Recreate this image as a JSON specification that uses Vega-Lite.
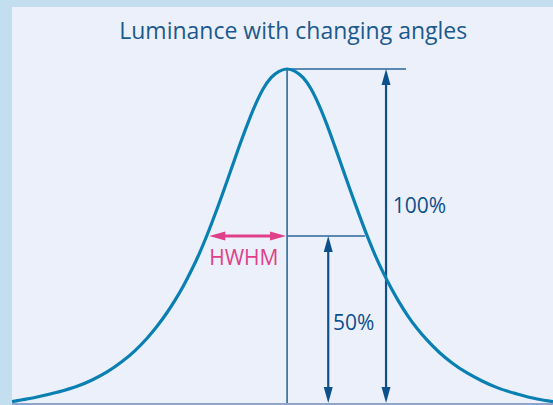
{
  "$schema": "https://vega.github.io/schema/vega-lite/v6.json",
  "autosize": "none",
  "width": 541,
  "height": 398,
  "padding": {"left": 12, "top": 7, "right": 0, "bottom": 0},
  "background": "#c3deee",
  "view": {"fill": "#ecf0fb", "stroke": null},
  "datasets": {
    "curve": [
      {"angle": -80.88, "lum": 0.4},
      {"angle": -78.24, "lum": 0.9},
      {"angle": -73.53, "lum": 1.8},
      {"angle": -67.65, "lum": 3.2},
      {"angle": -61.76, "lum": 5.0},
      {"angle": -57.35, "lum": 6.9},
      {"angle": -52.94, "lum": 9.3},
      {"angle": -48.53, "lum": 12.4},
      {"angle": -44.71, "lum": 15.7},
      {"angle": -41.18, "lum": 19.4},
      {"angle": -38.24, "lum": 23.0},
      {"angle": -35.29, "lum": 27.1},
      {"angle": -32.94, "lum": 30.8},
      {"angle": -30.59, "lum": 34.9},
      {"angle": -28.24, "lum": 39.5},
      {"angle": -25.88, "lum": 44.6},
      {"angle": -23.53, "lum": 50.3},
      {"angle": -21.18, "lum": 56.5},
      {"angle": -18.82, "lum": 63.1},
      {"angle": -16.47, "lum": 69.9},
      {"angle": -14.12, "lum": 76.7},
      {"angle": -11.76, "lum": 83.2},
      {"angle": -9.41, "lum": 89.1},
      {"angle": -7.06, "lum": 94.0},
      {"angle": -4.71, "lum": 97.4},
      {"angle": -2.35, "lum": 99.3},
      {"angle": 0, "lum": 100},
      {"angle": 2.35, "lum": 99.3},
      {"angle": 4.71, "lum": 97.4},
      {"angle": 7.06, "lum": 94.0},
      {"angle": 9.41, "lum": 89.1},
      {"angle": 11.76, "lum": 83.2},
      {"angle": 14.12, "lum": 76.6},
      {"angle": 16.47, "lum": 69.8},
      {"angle": 18.82, "lum": 63.0},
      {"angle": 21.18, "lum": 56.4},
      {"angle": 23.53, "lum": 50.1},
      {"angle": 25.88, "lum": 44.3},
      {"angle": 28.24, "lum": 39.1},
      {"angle": 30.59, "lum": 34.4},
      {"angle": 32.94, "lum": 30.2},
      {"angle": 35.29, "lum": 26.4},
      {"angle": 38.24, "lum": 22.3},
      {"angle": 41.18, "lum": 18.8},
      {"angle": 44.71, "lum": 15.2},
      {"angle": 48.53, "lum": 12.0},
      {"angle": 52.94, "lum": 9.0},
      {"angle": 57.35, "lum": 6.6},
      {"angle": 61.76, "lum": 4.6},
      {"angle": 67.65, "lum": 2.7},
      {"angle": 73.53, "lum": 1.2},
      {"angle": 78.2, "lum": 0.4}
    ],
    "baseline": [{"x": -80.9, "x2": 78.2, "y": -0.3, "y2": -0.3}],
    "guides": [
      {"x": 0, "y": 0, "x2": 0, "y2": 100},
      {"x": 0, "y": 100, "x2": 35.0, "y2": 100},
      {"x": 0, "y": 50, "x2": 22.9, "y2": 50}
    ],
    "shafts": [
      {"x": 29.1, "y": 2.5, "x2": 29.1, "y2": 97.5},
      {"x": 12.1, "y": 2.5, "x2": 12.1, "y2": 47.5}
    ],
    "hwhm": [{"x": -20.5, "y": 50, "x2": -2.5, "y2": 50}],
    "heads": [
      {"x": 29.1, "y": 100, "dir": "up", "kind": "level"},
      {"x": 29.1, "y": 0, "dir": "down", "kind": "level"},
      {"x": 12.1, "y": 50, "dir": "up", "kind": "level"},
      {"x": 12.1, "y": 0, "dir": "down", "kind": "level"},
      {"x": -22.9, "y": 50, "dir": "left", "kind": "hwhm"},
      {"x": -0.3, "y": 50, "dir": "right", "kind": "hwhm"}
    ],
    "labels": [
      {"x": 31.1, "y": 57.0, "text": "100%", "kind": "level"},
      {"x": 13.5, "y": 21.9, "text": "50%", "kind": "level"},
      {"x": -22.9, "y": 41.2, "text": "HWHM", "kind": "hwhm"}
    ],
    "title": [{"x": 1.8, "y": 108.9, "text": "Luminance with changing angles"}]
  },
  "layer": [
    {
      "data": {"name": "baseline"},
      "mark": {"type": "rule", "color": "#8fa5cc", "strokeWidth": 2},
      "encoding": {
        "x": {"field": "x", "type": "quantitative", "scale": {"domain": [-80.9, 78.2], "nice": false, "zero": false}, "axis": null},
        "x2": {"field": "x2"},
        "y": {"field": "y", "type": "quantitative", "scale": {"domain": [-0.6, 118.56], "nice": false, "zero": false}, "axis": null},
        "y2": {"field": "y2"}
      }
    },
    {
      "data": {"name": "guides"},
      "mark": {"type": "rule", "color": "#2c679c", "strokeWidth": 1.6},
      "encoding": {
        "x": {"field": "x", "type": "quantitative"},
        "x2": {"field": "x2"},
        "y": {"field": "y", "type": "quantitative"},
        "y2": {"field": "y2"}
      }
    },
    {
      "data": {"name": "shafts"},
      "mark": {"type": "rule", "color": "#0d4f8b", "strokeWidth": 2.2},
      "encoding": {
        "x": {"field": "x", "type": "quantitative"},
        "x2": {"field": "x2"},
        "y": {"field": "y", "type": "quantitative"},
        "y2": {"field": "y2"}
      }
    },
    {
      "data": {"name": "hwhm"},
      "mark": {"type": "rule", "color": "#e03f8a", "strokeWidth": 3.2},
      "encoding": {
        "x": {"field": "x", "type": "quantitative"},
        "x2": {"field": "x2"},
        "y": {"field": "y", "type": "quantitative"},
        "y2": {"field": "y2"}
      }
    },
    {
      "data": {"name": "heads"},
      "mark": {"type": "point", "filled": true, "opacity": 1, "size": 1024, "strokeWidth": 0},
      "encoding": {
        "x": {"field": "x", "type": "quantitative"},
        "y": {"field": "y", "type": "quantitative"},
        "shape": {
          "field": "dir", "type": "nominal", "legend": null,
          "scale": {"domain": ["up", "down", "left", "right"],
                    "range": ["M0,0L0.28,1L-0.28,1Z", "M0,0L0.28,-1L-0.28,-1Z", "M0,0L1,0.28L1,-0.28Z", "M0,0L-1,0.28L-1,-0.28Z"]}
        },
        "color": {
          "field": "kind", "type": "nominal", "legend": null,
          "scale": {"domain": ["level", "hwhm"], "range": ["#0d4f8b", "#e03f8a"]}
        }
      }
    },
    {
      "data": {"name": "curve"},
      "mark": {"type": "line", "color": "#0a80b2", "strokeWidth": 3.2, "interpolate": "monotone"},
      "encoding": {
        "x": {"field": "angle", "type": "quantitative"},
        "y": {"field": "lum", "type": "quantitative"}
      }
    },
    {
      "data": {"name": "labels"},
      "mark": {"type": "text", "font": "Open Sans", "fontSize": 21, "baseline": "alphabetic", "align": "left"},
      "encoding": {
        "x": {"field": "x", "type": "quantitative"},
        "y": {"field": "y", "type": "quantitative"},
        "text": {"field": "text"},
        "color": {
          "field": "kind", "type": "nominal", "legend": null,
          "scale": {"domain": ["level", "hwhm"], "range": ["#1c5a8e", "#e0468e"]}
        }
      }
    },
    {
      "data": {"name": "title"},
      "mark": {"type": "text", "font": "Open Sans", "fontSize": 23, "baseline": "alphabetic", "align": "center", "color": "#1b5a8e"},
      "encoding": {
        "x": {"field": "x", "type": "quantitative"},
        "y": {"field": "y", "type": "quantitative"},
        "text": {"field": "text"}
      }
    }
  ]
}
